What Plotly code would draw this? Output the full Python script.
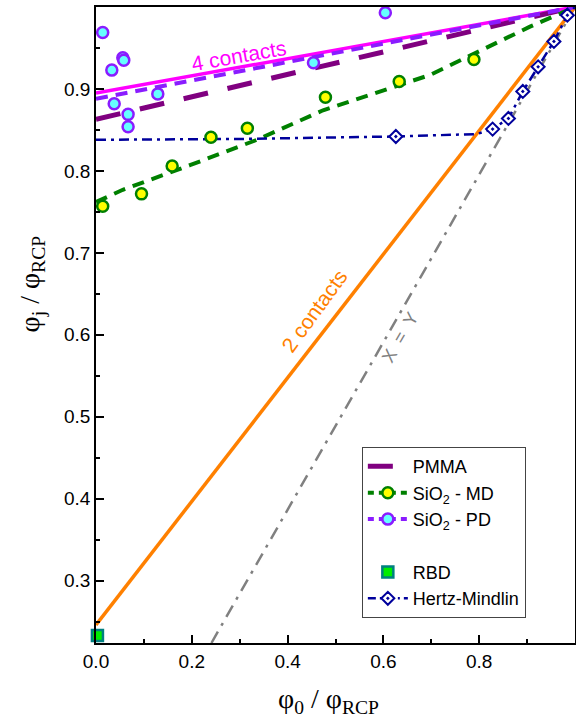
import plotly.graph_objects as go

# ---- data ----
x_4c = [0.0, 1.0]
y_4c = [0.895, 1.0]

x_2c = [0.0, 1.0]
y_2c = [0.246, 1.0]

x_xy = [0.241, 1.0]
y_xy = [0.224, 1.0]

x_pmma = [0.0, 1.0]
y_pmma = [0.863, 1.0]

x_pd_line = [0.0, 1.0]
y_pd_line = [0.888, 1.0]
x_pd = [0.014, 0.033, 0.056, 0.058, 0.038, 0.067, 0.067, 0.129, 0.454, 0.604]
y_pd = [0.969, 0.923, 0.938, 0.935, 0.882, 0.869, 0.854, 0.894, 0.932, 0.993]

x_md_line = [0.0, 0.056, 0.196, 0.336, 0.474, 0.697, 0.906, 1.0]
y_md_line = [0.762, 0.777, 0.807, 0.838, 0.874, 0.917, 0.976, 1.0]
x_md = [0.014, 0.095, 0.159, 0.240, 0.316, 0.479, 0.633, 0.789]
y_md = [0.757, 0.772, 0.806, 0.841, 0.852, 0.890, 0.909, 0.936]

x_rbd = [0.003]
y_rbd = [0.233]

x_hm_line = [0.0, 0.3, 0.626, 0.795, 0.828, 0.861, 0.891, 0.923, 0.956, 0.984, 1.0]
y_hm_line = [0.838, 0.839, 0.842, 0.845, 0.851, 0.864, 0.897, 0.927, 0.958, 0.990, 1.0]
x_hm = [0.626, 0.828, 0.861, 0.891, 0.923, 0.956, 0.984]
y_hm = [0.842, 0.851, 0.864, 0.897, 0.927, 0.958, 0.990]

# ---- styles ----
C_4C = "#ff00ff"
C_2C = "#ff8000"
C_XY = "#808080"
C_PMMA = "#800080"
C_PD = "#8a1cff"
C_PD_FILL = "#66ffff"
C_MD = "#008000"
C_MD_FILL = "#ffff00"
C_HM = "#00009c"

md_marker = dict(symbol="circle", size=11, color=C_MD_FILL, line=dict(color=C_MD, width=2.5))
pd_marker = dict(symbol="circle", size=11, color=C_PD_FILL, line=dict(color=C_PD, width=2.5))
hm_marker = dict(symbol="diamond-dot", size=10, color="white", line=dict(color=C_HM, width=2))
rbd_marker = dict(symbol="square", size=11, color="#00ee00", line=dict(color="#008080", width=2.5))

md_dash = "12px,8px"
pd_dash = "12px,8px"
hm_dash = "10px,5px,3px,5px"
pmma_dash = "25px,20px"

fig = go.Figure()

# reference lines (no legend)
fig.add_trace(go.Scatter(x=x_xy, y=y_xy, mode="lines", showlegend=False,
                         line=dict(color=C_XY, width=2.5, dash="13px,7px,3px,7px")))
fig.add_trace(go.Scatter(x=x_2c, y=y_2c, mode="lines", showlegend=False,
                         line=dict(color=C_2C, width=3.5)))
fig.add_trace(go.Scatter(x=x_4c, y=y_4c, mode="lines", showlegend=False,
                         line=dict(color=C_4C, width=3.5)))

# data lines
fig.add_trace(go.Scatter(x=x_pmma, y=y_pmma, mode="lines", name="PMMA",
                         line=dict(color=C_PMMA, width=5, dash=pmma_dash)))
fig.add_trace(go.Scatter(x=x_md_line, y=y_md_line, mode="lines", showlegend=False,
                         line=dict(color=C_MD, width=4, dash=md_dash)))
fig.add_trace(go.Scatter(x=x_pd_line, y=y_pd_line, mode="lines", showlegend=False,
                         line=dict(color=C_PD, width=4, dash=pd_dash)))
fig.add_trace(go.Scatter(x=x_hm_line, y=y_hm_line, mode="lines", showlegend=False,
                         line=dict(color=C_HM, width=2.5, dash=hm_dash)))

# markers
fig.add_trace(go.Scatter(x=x_md, y=y_md, mode="markers", showlegend=False, marker=md_marker))
fig.add_trace(go.Scatter(x=x_pd, y=y_pd, mode="markers", showlegend=False, marker=pd_marker))
fig.add_trace(go.Scatter(x=x_hm, y=y_hm, mode="markers", showlegend=False, marker=hm_marker))

# legend entries
fig.add_trace(go.Scatter(x=[None], y=[None], mode="lines+markers", name="SiO<sub>2</sub> - MD",
                         line=dict(color=C_MD, width=4, dash="6px,5px"), marker=md_marker))
fig.add_trace(go.Scatter(x=[None], y=[None], mode="lines+markers", name="SiO<sub>2</sub> - PD",
                         line=dict(color=C_PD, width=4, dash="6px,5px"), marker=pd_marker))
fig.add_trace(go.Scatter(x=[None], y=[None], mode="lines", name=" ",
                         line=dict(color="rgba(0,0,0,0)", width=1)))
fig.add_trace(go.Scatter(x=x_rbd, y=y_rbd, mode="markers", name="RBD", marker=rbd_marker,
                         cliponaxis=False))
fig.add_trace(go.Scatter(x=[None], y=[None], mode="lines+markers", name="Hertz-Mindlin",
                         line=dict(color=C_HM, width=2.5, dash="8px,4px,2px,4px"), marker=hm_marker))

# annotations
fig.add_annotation(x=0.298, y=0.941, text="4 contacts", showarrow=False, textangle=-10,
                   font=dict(family="Liberation Sans", size=21, color=C_4C))
fig.add_annotation(x=0.456, y=0.630, text="2 contacts", showarrow=False, textangle=-54,
                   font=dict(family="Liberation Sans", size=21, color=C_2C))
fig.add_annotation(x=0.636, y=0.597, text="X &nbsp;= &nbsp;Y", showarrow=False, textangle=-60,
                   font=dict(family="Liberation Sans", size=18, color=C_XY))

# axis titles
fig.add_annotation(xref="paper", yref="paper", x=0.486, y=-0.09, xanchor="center", yanchor="middle",
                   text="φ<sub>0</sub> / φ<sub>RCP</sub>", showarrow=False,
                   font=dict(family="Liberation Serif", size=28, color="black"))
fig.add_annotation(xref="paper", yref="paper", x=-0.134, y=0.565, xanchor="center", yanchor="middle",
                   text="φ<sub>j</sub> / φ<sub>RCP</sub>", showarrow=False, textangle=-90,
                   font=dict(family="Liberation Serif", size=28, color="black"))

axis_common = dict(showline=True, linecolor="black", linewidth=1.5, mirror=True,
                   ticks="inside", ticklen=8, tickwidth=1.5, tickcolor="black",
                   showgrid=False, zeroline=False, automargin=False,
                   tickfont=dict(family="Liberation Sans", size=19, color="black"))

fig.update_layout(
    width=576, height=721,
    margin=dict(l=96, r=1, t=7, b=78),
    paper_bgcolor="white", plot_bgcolor="white",
    xaxis=dict(range=[0.0, 1.0], tick0=0, dtick=0.2, tickformat=".1f",
               minor=dict(dtick=0.1, ticks="inside", ticklen=4, tickwidth=1.5, tickcolor="black"),
               **axis_common),
    yaxis=dict(range=[0.224, 1.0], tick0=0, dtick=0.1, tickformat=".1f",
               minor=dict(dtick=0.05, ticks="inside", ticklen=4, tickwidth=1.5, tickcolor="black"),
               **axis_common),
    legend=dict(x=0.555, y=0.308, xanchor="left", yanchor="top",
                bgcolor="white", bordercolor="#444", borderwidth=1,
                font=dict(family="Liberation Sans", size=18, color="black"),
                itemwidth=40),
    showlegend=True,
)

fig.write_html("out.html", config={"displayModeBar": False},
               post_script="document.body.style.margin='0px';document.body.style.overflow='hidden';")
